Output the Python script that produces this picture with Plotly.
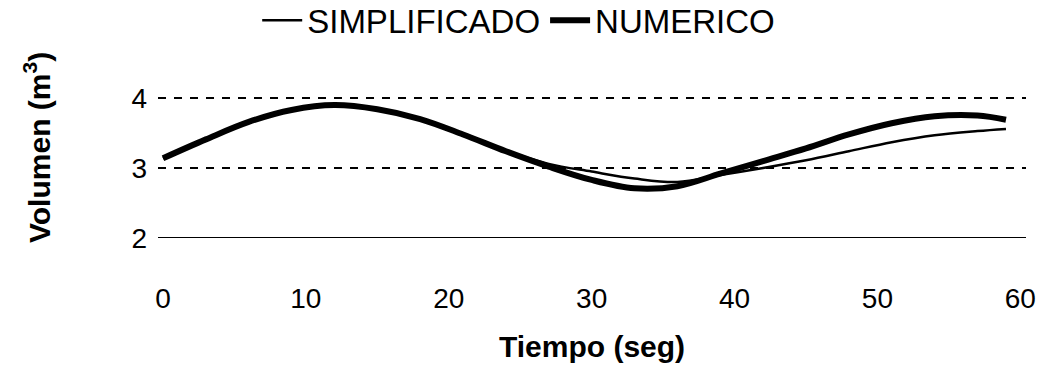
import plotly.graph_objects as go

tiempo = [0, 3, 6, 9, 12, 15, 18, 21, 24, 27, 30, 33, 36, 39, 42, 45, 48, 51, 54, 57, 59]
numerico = [3.14, 3.41, 3.66, 3.83, 3.90, 3.84, 3.70, 3.48, 3.24, 3.02, 2.83, 2.71, 2.74, 2.92,
            3.10, 3.28, 3.48, 3.64, 3.74, 3.75, 3.69]
simplificado = [3.14, 3.41, 3.66, 3.83, 3.90, 3.84, 3.70, 3.48, 3.25, 3.06, 2.95, 2.85, 2.80, 2.90,
                3.00, 3.11, 3.24, 3.37, 3.47, 3.53, 3.56]
y_ticks = [2, 3, 4]
x_ticks = [0, 10, 20, 30, 40, 50, 60]

FONT = "Liberation Sans, Arial, sans-serif"

fig = go.Figure()
fig.add_trace(go.Scatter(x=tiempo, y=simplificado, mode="lines", name="SIMPLIFICADO",
                         line=dict(color="black", width=2.5, shape="spline")))
fig.add_trace(go.Scatter(x=tiempo, y=numerico, mode="lines", name="NUMERICO",
                         line=dict(color="black", width=6, shape="spline")))

fig.update_layout(
    width=1050, height=367,
    margin=dict(l=158, r=24, t=96, b=129, autoexpand=False),
    paper_bgcolor="white", plot_bgcolor="white",
    font=dict(family=FONT, color="black", size=28),
    showlegend=True,
    legend=dict(orientation="h", xref="container", x=0.494, xanchor="center",
                y=0.945, yanchor="middle", yref="container", font=dict(size=33),
                itemwidth=40, traceorder="normal", tracegroupgap=0),
    xaxis=dict(range=[-0.35, 60.4], tickvals=x_ticks, showgrid=False, zeroline=False,
               showline=False, ticks="", ticklabelstandoff=41, automargin=False,
               tickfont=dict(size=28),
               title=dict(text="<b>Tiempo (seg)</b>", font=dict(size=30), standoff=22)),
    yaxis=dict(range=[2, 4.03], tickvals=y_ticks, showgrid=True, gridcolor="black",
               gridwidth=1.5, griddash="8px,8px", zeroline=False, showline=False,
               ticks="", ticklabelstandoff=10, tickfont=dict(size=28), automargin=False),
)
fig.add_annotation(text="<b>Volumen (m<sup>3</sup>)</b>", textangle=-90, showarrow=False,
                   xref="paper", yref="paper", x=(37 - 158) / 868, y=(238 - 148) / 142,
                   xanchor="center", yanchor="middle", font=dict(size=30, family=FONT))
fig.add_shape(type="line", xref="paper", yref="y", x0=0, x1=1, y0=2, y1=2,
              line=dict(color="black", width=2))
fig.write_html("out.html", config={"displayModeBar": False},
               post_script="document.body.style.margin='0';document.body.style.overflow='hidden';")
